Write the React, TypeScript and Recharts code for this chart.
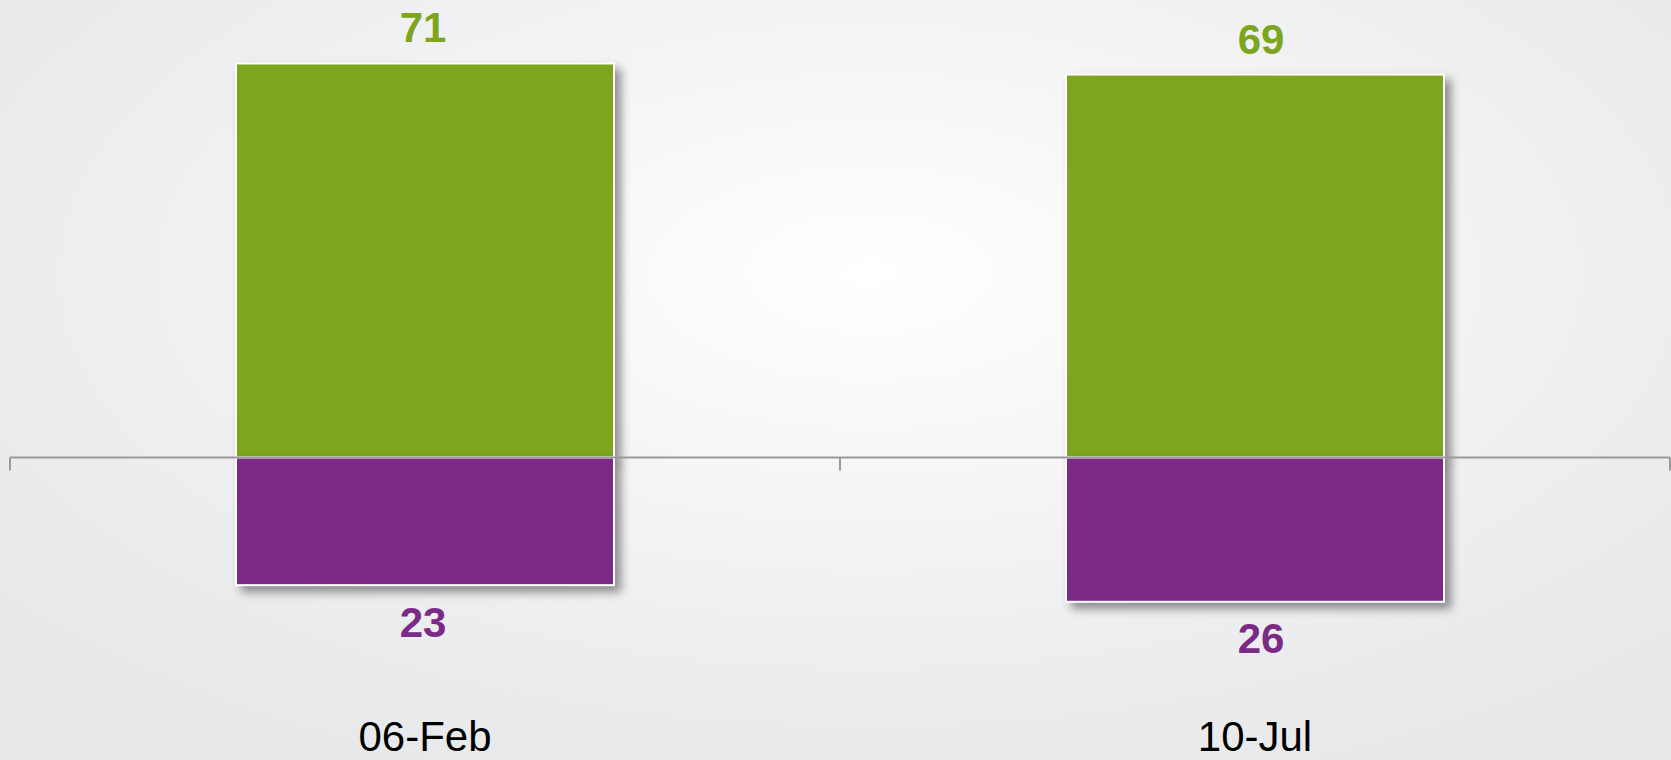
import { BarChart, Bar, XAxis, YAxis, ReferenceLine, LabelList } from 'recharts'

const categories = ['06-Feb', '10-Jul']
const positions = [0.5, 1.5]
const greenValues = [71, 69]
const purpleValues = [23, 26]
const boundaries = [0, 1, 2]

const GREEN = '#7DA51E'
const PURPLE = '#7B2B86'
const FONT = "'Liberation Sans', Arial, sans-serif"

const data = categories.map((c, i) => ({
  name: c,
  x: positions[i],
  green: greenValues[i],
  purple: -purpleValues[i],
}))

function ShadowBar(props: any) {
  const { x, y, width, height, fill } = props
  const top = Math.min(y, y + height)
  const h = Math.abs(height)
  return (
    <rect x={x} y={top} width={width} height={h} fill={fill} stroke="#fff" strokeWidth={2}
      style={{ filter: 'drop-shadow(6px 6px 5px rgba(0,0,0,0.42))' }} />
  )
}

function labelFor(color: string, above: boolean) {
  return (p: any) => {
    const { x, y, width, height, value, index } = p
    const top = Math.min(y, y + height)
    const bottom = Math.max(y, y + height)
    const ty = above ? top - 21 : bottom + 51.5
    // second group's labels sit a little right of the bar centre in the original
    const dx = index === 1 ? 6 : -2
    return (
      <text x={x + width / 2 + dx} y={ty} textAnchor="middle" fill={color}
        style={{ fontSize: 42, fontWeight: 700, fontFamily: FONT }}>
        {Math.abs(value)}
      </text>
    )
  }
}

export default function App() {
  return (
    <div style={{
      position: 'absolute', left: 0, top: 0, width: 1671, height: 760,
      background: 'radial-gradient(ellipse 70% 75% at 52% 36%, #ffffff 0%, #f6f6f7 35%, #ebecee 75%, #e7e8ea 100%)',
    }}>
      <BarChart width={1671} height={760} data={data} stackOffset="sign"
        margin={{ top: 13.5, right: 1, bottom: 20.5, left: 10 }}>
        <XAxis type="number" dataKey="x" domain={[0, 2]} ticks={positions}
          tickFormatter={(v: number) => categories[Math.floor(v)]}
          axisLine={false} tickLine={false} tickSize={0} tickMargin={42} height={60}
          tick={{ fontSize: 42, fill: '#000', fontFamily: FONT }} />
        <YAxis hide domain={[-40, 80]} allowDataOverflow />
        <Bar dataKey="green" stackId="a" fill={GREEN} barSize={378} shape={<ShadowBar />} isAnimationActive={false}>
          <LabelList dataKey="green" content={labelFor(GREEN, true)} />
        </Bar>
        <Bar dataKey="purple" stackId="a" fill={PURPLE} barSize={378} shape={<ShadowBar />} isAnimationActive={false}>
          <LabelList dataKey="purple" content={labelFor(PURPLE, false)} />
        </Bar>
        <ReferenceLine y={0} stroke="#9a9a9a" strokeWidth={2} />
        {boundaries.map(b => (
          <ReferenceLine key={b} segment={[{ x: b, y: 0 }, { x: b, y: -2.35 }]} stroke="#9a9a9a" strokeWidth={2} />
        ))}
      </BarChart>
    </div>
  )
}
